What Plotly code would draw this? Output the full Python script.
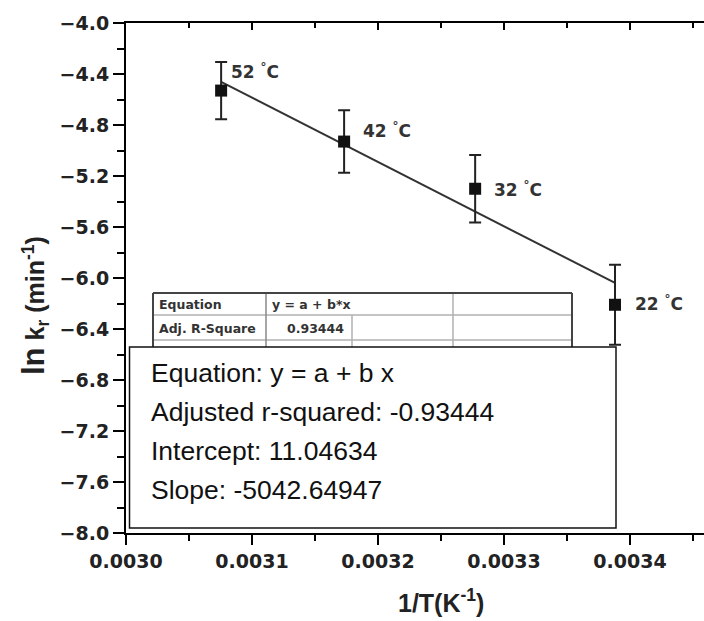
import plotly.graph_objects as go

# ---- data ----
inv_T = [0.0030755, 0.0031731, 0.0032771, 0.0033881]   # 1/T (K^-1)
ln_k = [-4.53, -4.93, -5.30, -6.21]                       # ln k_r
ln_k_err = [0.225, 0.245, 0.265, 0.313]
temp_labels = ["52", "42", "32", "22"]
intercept = 11.04634
slope = -5042.64947
adj_r2_text = "-0.93444"
table_r2 = "0.93444"

# label offsets in px (xshift, yshift) relative to each point
label_shift = [(8, 20), (17, 12), (17, 0), (18, 2)]

# ---- layout geometry (pixels) ----
W_PX, H_PX = 704, 621
L, R, T, B = 126, 704, 23, 533
PW, PH = R - L, B - T


def px(x):
    return (x - L) / PW


def py(y):
    return (B - y) / PH


fig = go.Figure()

# fit line
fit_x = [inv_T[0], inv_T[-1]]
fit_y = [intercept + slope * v for v in fit_x]
fig.add_trace(go.Scatter(x=fit_x, y=fit_y, mode="lines",
                         line=dict(color="#333333", width=2), showlegend=False,
                         hoverinfo="skip"))

# data points
fig.add_trace(go.Scatter(
    x=inv_T, y=ln_k, mode="markers",
    marker=dict(symbol="square", size=12, color="#111111"),
    error_y=dict(type="data", array=ln_k_err, color="#222222", thickness=2, width=6),
    showlegend=False))

# invisible trace on top axis
fig.add_trace(go.Scatter(x=[inv_T[0]], y=[ln_k[0]], xaxis="x2", mode="markers",
                         marker=dict(opacity=0), showlegend=False, hoverinfo="skip"))

x_range = [0.0030, 0.0030 + (R - L) / 1260000]

fig.update_layout(
    width=W_PX, height=H_PX,
    margin=dict(l=L, r=W_PX - R, t=T, b=H_PX - B, pad=0),
    paper_bgcolor="white", plot_bgcolor="white",
    xaxis=dict(range=x_range, tick0=0.0030, dtick=0.0001, tickformat=".4f",
               showgrid=False, zeroline=False, showline=True, linecolor="black",
               linewidth=2, ticks="outside", ticklen=10, tickwidth=2, tickcolor="black",
               tickfont=dict(family="DejaVu Sans", size=19, color="#222222", weight="bold"),
               minor=dict(dtick=0.00005, tick0=0.0030, ticks="outside", ticklen=6,
                          tickwidth=2, tickcolor="black"),
               mirror=False),
    xaxis2=dict(range=x_range, overlaying="x", side="top", tick0=0.0030, dtick=0.0001,
                showgrid=False, zeroline=False, showline=True, linecolor="black",
                linewidth=2, ticks="inside", ticklen=7, tickwidth=2, tickcolor="black",
                showticklabels=False,
                minor=dict(dtick=0.00005, tick0=0.0030, ticks="inside", ticklen=5,
                           tickwidth=2, tickcolor="black")),
    yaxis=dict(range=[-8.0, -4.0], tick0=-8.0, dtick=0.4, tickformat=".1f",
               showgrid=False, zeroline=False, showline=True, linecolor="black",
               linewidth=2, ticks="outside", ticklen=11, tickwidth=2, tickcolor="black",
               tickfont=dict(family="DejaVu Sans", size=19, color="#222222", weight="bold"),
               minor=dict(dtick=0.2, tick0=-8.0, ticks="outside", ticklen=7,
                          tickwidth=2, tickcolor="black")),
)

annotations = []
shapes = []

# temperature labels
for xv, yv, lab, (dx, dy) in zip(inv_T, ln_k, temp_labels, label_shift):
    annotations.append(dict(x=xv, y=yv, xref="x", yref="y", xanchor="left",
                            yanchor="middle", xshift=dx, yshift=dy, showarrow=False,
                            text=f"{lab} <sup>°</sup>C",
                            font=dict(family="DejaVu Sans", size=17, color="#333333",
                                      weight="bold")))

# axis titles
annotations.append(dict(x=px(34), y=py(306), xref="paper", yref="paper",
                        showarrow=False, textangle=-90, xanchor="center", yanchor="middle",
                        text="<span style='font-size:31px'>ln</span> k<sub>r</sub> (min<sup>-1</sup>)",
                        font=dict(family="Arial", size=25, color="#222222", weight="bold")))
annotations.append(dict(x=px(441), y=py(601), xref="paper", yref="paper",
                        showarrow=False, xanchor="center", yanchor="middle",
                        text="1/T(K<sup>-1</sup>)",
                        font=dict(family="Arial", size=25, color="#222222", weight="bold")))

# background table (partially covered by the box)
tb_l, tb_r, tb_t = 153, 572, 293
col1, col2, col3 = 266, 352, 453
row1, row2 = 315, 340
box_l, box_r, box_t, box_b = 129.5, 616, 347, 528
grid = dict(color="#b0b0b0", width=1.5)
shapes += [
    dict(type="line", xref="paper", yref="paper", x0=px(tb_l), x1=px(tb_r), y0=py(row1), y1=py(row1), line=grid),
    dict(type="line", xref="paper", yref="paper", x0=px(tb_l), x1=px(tb_r), y0=py(row2), y1=py(row2), line=grid),
    dict(type="line", xref="paper", yref="paper", x0=px(col1), x1=px(col1), y0=py(tb_t), y1=py(box_t), line=dict(color="#888888", width=1.5)),
    dict(type="line", xref="paper", yref="paper", x0=px(col2), x1=px(col2), y0=py(row1), y1=py(box_t), line=grid),
    dict(type="line", xref="paper", yref="paper", x0=px(col3), x1=px(col3), y0=py(tb_t), y1=py(box_t), line=grid),
    # outer border
    dict(type="line", xref="paper", yref="paper", x0=px(tb_l), x1=px(tb_r), y0=py(tb_t), y1=py(tb_t), line=dict(color="#444444", width=2)),
    dict(type="line", xref="paper", yref="paper", x0=px(tb_l), x1=px(tb_l), y0=py(tb_t), y1=py(box_t), line=dict(color="#444444", width=2)),
    dict(type="line", xref="paper", yref="paper", x0=px(tb_r), x1=px(tb_r), y0=py(tb_t), y1=py(box_t), line=dict(color="#444444", width=2)),
    # overlay box
    dict(type="rect", xref="paper", yref="paper", x0=px(box_l), x1=px(box_r), y0=py(box_b), y1=py(box_t),
         line=dict(color="#111111", width=1.5), fillcolor="white", layer="above"),
]

tfont = dict(family="DejaVu Sans", size=12.5, color="#333333", weight="bold")
annotations += [
    dict(x=px(157), y=py(304), xref="paper", yref="paper", showarrow=False, xanchor="left",
         yanchor="middle", text="Equation", font=tfont),
    dict(x=px(270), y=py(304), xref="paper", yref="paper", showarrow=False, xanchor="left",
         yanchor="middle", text="y = a + b*x", font=tfont),
    dict(x=px(157), y=py(328), xref="paper", yref="paper", showarrow=False, xanchor="left",
         yanchor="middle", text="Adj. R-Square", font=tfont),
    dict(x=px(346), y=py(328), xref="paper", yref="paper", showarrow=False, xanchor="right",
         yanchor="middle", text=table_r2, font=tfont),
]

box_lines = [
    "Equation: y = a + b x",
    f"Adjusted r-squared: {adj_r2_text}",
    f"Intercept: {intercept:.5f}",
    f"Slope: {slope:.5f}",
]
baselines = [382, 421, 460, 499]
bfont = dict(family="Arial", size=26.5, color="#111111")
for txt, bl in zip(box_lines, baselines):
    annotations.append(dict(x=px(149), y=py(bl - 9), xref="paper", yref="paper",
                            showarrow=False, xanchor="left", yanchor="middle",
                            text=txt, font=bfont))

fig.update_layout(annotations=annotations, shapes=shapes)
fig.write_html("out.html")
